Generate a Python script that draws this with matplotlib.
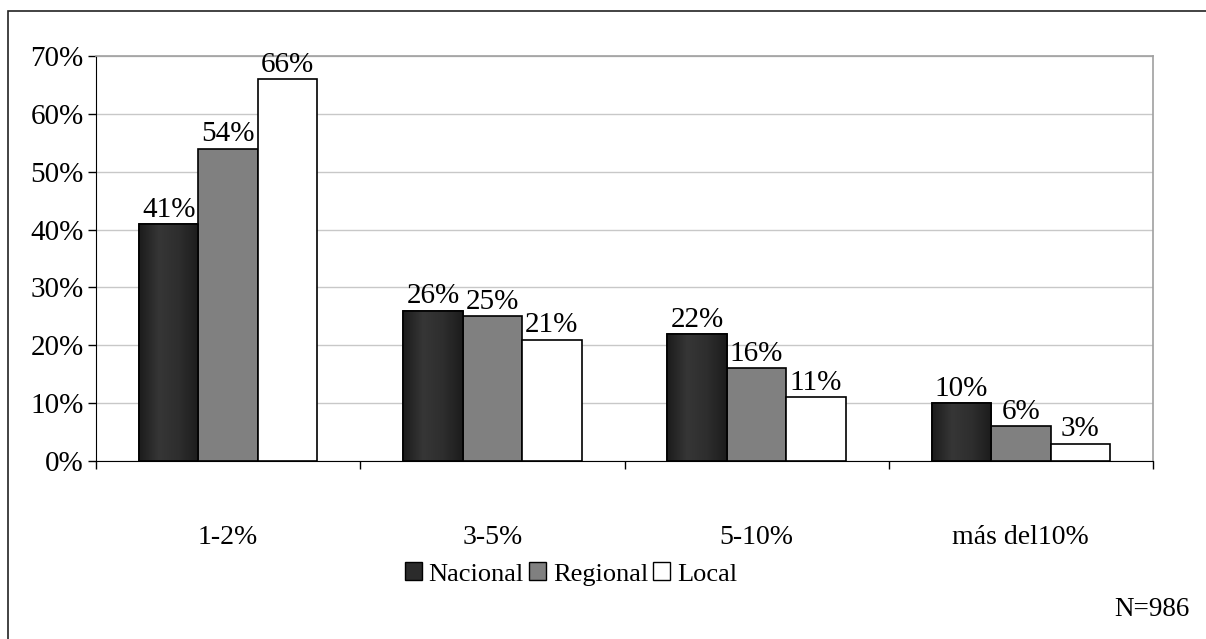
import matplotlib
matplotlib.use("Agg")
import matplotlib.pyplot as plt
import numpy as np
from matplotlib.patches import Rectangle, Patch
from matplotlib.colors import LinearSegmentedColormap

plt.rcParams['font.family'] = ['Liberation Serif', 'DejaVu Serif']

categories = ["1-2%", "3-5%", "5-10%", "más del10%"]
series_names = ["Nacional", "Regional", "Local"]
nacional = [41, 26, 22, 10]
regional = [54, 25, 16, 6]
local = [66, 21, 11, 3]
yticks = [0, 10, 20, 30, 40, 50, 60, 70]

fig = plt.figure(figsize=(12.06, 6.39), dpi=100)
ax = fig.add_axes([96/1206, 1-461/639, (1153-96)/1206, (461-56)/639])

# outer frame
fig.add_artist(Rectangle((8/1206, -0.1), 1.2, 1-11/639+0.1, transform=fig.transFigure,
                         fill=False, edgecolor='#222222', linewidth=1.2, clip_on=False))

x = np.arange(len(categories))
w = 0.225
series = [nacional, regional, local]
colors = ['#2b2b2b', '#808080', '#ffffff']
offsets = [-w, 0, w]

grad_cmap = LinearSegmentedColormap.from_list('g', ['#1c1c1c', '#363636', '#2e2e2e', '#1c1c1c'])
grad = np.linspace(0, 1, 64).reshape(1, -1)

for s, vals, col, off in zip(series_names, series, colors, offsets):
    bars = ax.bar(x + off, vals, width=w, color=col, edgecolor='black', linewidth=1.2, zorder=3)
    for b, v in zip(bars, vals):
        if s == "Nacional":
            ax.imshow(grad, cmap=grad_cmap, aspect='auto', zorder=3.5,
                      extent=(b.get_x(), b.get_x() + b.get_width(), 0, v))
            ax.add_patch(Rectangle((b.get_x(), 0), b.get_width(), v, fill=False,
                                   edgecolor='black', linewidth=1.2, zorder=4))
        ax.text(b.get_x() + b.get_width()/2, v + 0.2, f"{v}%", ha='center', va='bottom',
                fontsize=21, zorder=5)

ax.set_xlim(-0.5, len(categories) - 0.5)
ax.set_ylim(0, 70)
ax.set_yticks(yticks)
ax.set_yticklabels([f"{t}%" for t in yticks], fontsize=21)
ax.yaxis.grid(True, color='#c8c8c8', linewidth=1, zorder=0)
ax.set_axisbelow(True)

ax.set_xticks(np.arange(len(categories) + 1) - 0.5)
ax.set_xticklabels([])
ax.set_xticks(x, minor=True)
ax.set_xticklabels(categories, minor=True, fontsize=20)
ax.tick_params(axis='x', which='minor', length=0, pad=46)
ax.tick_params(axis='x', which='major', direction='out', length=6, width=1)
ax.tick_params(axis='y', direction='out', length=6, width=1, pad=3)

for sp in ['top', 'right']:
    ax.spines[sp].set_color('#a0a0a0')
    ax.spines[sp].set_linewidth(1.2)
ax.spines['left'].set_color('black')
ax.spines['bottom'].set_color('black')

handles = [Patch(facecolor=c, edgecolor='black', linewidth=1.0) for c in colors]
fig.legend(handles, series_names, loc='center', bbox_to_anchor=(571/1206, 1-574/639),
           ncol=3, frameon=False, fontsize=19, handlelength=0.65, handleheight=0.65,
           handletextpad=0.25, columnspacing=0.2, borderpad=0)

fig.text(1190/1206, 1-610/639, "N=986", ha='right', va='center', fontsize=19.5)

fig.savefig("out.png", dpi=100)
